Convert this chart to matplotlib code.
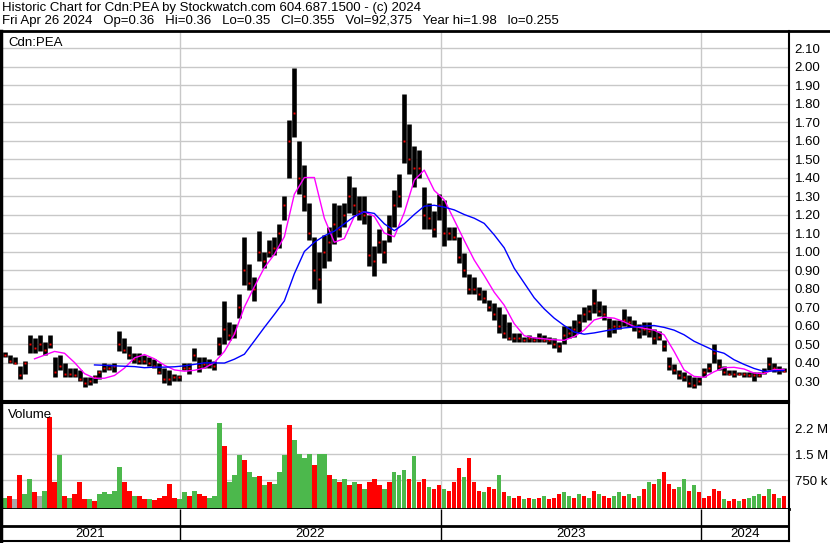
import numpy as np
import pandas as pd
import matplotlib
matplotlib.use("Agg")
from matplotlib import pyplot as plt
from matplotlib.lines import Line2D

plt.rcParams["font.family"] = ["Liberation Sans", "DejaVu Sans"]

# weekly bars (week ending Friday)
start_week = "2021-04-30"
hi = [0.455, 0.44, 0.43, 0.38, 0.41, 0.55, 0.53, 0.55, 0.51, 0.55,
      0.43, 0.44, 0.40, 0.37, 0.37, 0.36, 0.32, 0.32, 0.33, 0.36,
      0.40, 0.39, 0.40, 0.57, 0.53, 0.49, 0.45, 0.45, 0.44, 0.43,
      0.42, 0.40, 0.37, 0.36, 0.34, 0.33, 0.40, 0.40, 0.48, 0.43,
      0.43, 0.42, 0.41, 0.54, 0.73, 0.62, 0.61, 0.77, 1.08, 0.93,
      0.86, 1.11, 1.00, 1.06, 1.08, 1.15, 1.30, 1.71, 1.99, 1.60,
      1.47, 1.26, 1.08, 1.00, 1.09, 1.13, 1.26, 1.25, 1.26, 1.41,
      1.35, 1.30, 1.30, 1.20, 1.03, 1.12, 1.06, 1.20, 1.33, 1.42,
      1.85, 1.69, 1.57, 1.55, 1.35, 1.26, 1.22, 1.31, 1.28, 1.13,
      1.13, 1.08, 0.99, 0.88, 0.86, 0.81, 0.79, 0.74, 0.72, 0.70,
      0.66, 0.62, 0.56, 0.56, 0.54, 0.55, 0.54, 0.56, 0.55, 0.54,
      0.53, 0.51, 0.60, 0.60, 0.63, 0.66, 0.70, 0.71, 0.795, 0.73,
      0.71, 0.64, 0.63, 0.63, 0.69, 0.65, 0.63, 0.61, 0.62, 0.62,
      0.58, 0.57, 0.52, 0.43, 0.39, 0.36, 0.35, 0.33, 0.32, 0.32,
      0.37, 0.40, 0.50, 0.42, 0.38, 0.36, 0.36, 0.35, 0.35, 0.35,
      0.35, 0.35, 0.37, 0.43, 0.40, 0.38, 0.37]
lo = [0.43, 0.40, 0.39, 0.31, 0.34, 0.45, 0.45, 0.46, 0.44, 0.48,
      0.32, 0.36, 0.32, 0.32, 0.32, 0.30, 0.27, 0.28, 0.29, 0.31,
      0.35, 0.36, 0.35, 0.46, 0.45, 0.42, 0.40, 0.39, 0.39, 0.38,
      0.37, 0.34, 0.29, 0.28, 0.30, 0.30, 0.36, 0.34, 0.41, 0.35,
      0.37, 0.37, 0.36, 0.44, 0.50, 0.52, 0.53, 0.64, 0.82, 0.79,
      0.73, 0.95, 0.91, 0.97, 0.98, 1.02, 1.17, 1.40, 1.62, 1.31,
      1.22, 1.06, 0.80, 0.72, 0.91, 0.95, 1.04, 1.08, 1.13, 1.21,
      1.20, 1.17, 1.15, 0.92, 0.87, 0.99, 0.94, 1.05, 1.13, 1.24,
      1.48, 1.42, 1.35, 1.40, 1.12, 1.12, 1.08, 1.17, 1.03, 1.06,
      1.06, 0.94, 0.86, 0.77, 0.77, 0.74, 0.72, 0.68, 0.63, 0.56,
      0.53, 0.52, 0.51, 0.51, 0.51, 0.51, 0.51, 0.51, 0.51, 0.50,
      0.48, 0.455, 0.50, 0.53, 0.54, 0.56, 0.62, 0.63, 0.67, 0.65,
      0.63, 0.54, 0.56, 0.58, 0.60, 0.59, 0.57, 0.53, 0.55, 0.54,
      0.50, 0.52, 0.46, 0.36, 0.34, 0.31, 0.30, 0.27, 0.26, 0.28,
      0.32, 0.35, 0.40, 0.36, 0.33, 0.33, 0.32, 0.33, 0.32, 0.32,
      0.30, 0.32, 0.34, 0.36, 0.35, 0.34, 0.35]
cl = [0.44, 0.41, 0.40, 0.33, 0.40, 0.50, 0.48, 0.50, 0.47, 0.50,
      0.35, 0.38, 0.34, 0.34, 0.33, 0.31, 0.29, 0.30, 0.32, 0.35,
      0.37, 0.37, 0.38, 0.50, 0.47, 0.44, 0.42, 0.41, 0.41, 0.40,
      0.38, 0.35, 0.31, 0.31, 0.32, 0.32, 0.37, 0.37, 0.44, 0.38,
      0.39, 0.39, 0.38, 0.50, 0.58, 0.55, 0.56, 0.70, 0.90, 0.83,
      0.80, 1.00, 0.95, 1.00, 1.02, 1.10, 1.25, 1.60, 1.75, 1.40,
      1.30, 1.10, 0.90, 0.85, 1.00, 1.05, 1.15, 1.12, 1.20, 1.30,
      1.25, 1.22, 1.20, 0.98, 0.95, 1.05, 1.00, 1.12, 1.25, 1.30,
      1.60, 1.50, 1.45, 1.45, 1.20, 1.18, 1.12, 1.25, 1.10, 1.10,
      1.08, 0.97, 0.90, 0.80, 0.80, 0.77, 0.75, 0.70, 0.66, 0.60,
      0.56, 0.53, 0.53, 0.53, 0.52, 0.53, 0.52, 0.53, 0.52, 0.52,
      0.50, 0.49, 0.55, 0.56, 0.58, 0.62, 0.66, 0.68, 0.72, 0.68,
      0.66, 0.58, 0.60, 0.60, 0.63, 0.62, 0.60, 0.57, 0.58, 0.57,
      0.53, 0.54, 0.49, 0.38, 0.36, 0.33, 0.32, 0.29, 0.28, 0.30,
      0.35, 0.37, 0.45, 0.38, 0.35, 0.34, 0.34, 0.34, 0.34, 0.33,
      0.33, 0.33, 0.35, 0.39, 0.37, 0.36, 0.355]
# weekly peak volume, thousands of shares; r = down, g = up, n = unchanged
vol_k = [250, 300, 200, 900, 350, 800, 400, 300, 450, 2580,
         700, 1480, 300, 250, 350, 710, 200, 200, 150, 350,
         400, 350, 450, 1140, 700, 450, 300, 300, 200, 200,
         180, 250, 300, 640, 250, 200, 400, 300, 450, 350,
         300, 250, 300, 2390, 1740, 700, 900, 1480, 1330, 1000,
         850, 860, 600, 700, 650, 1000, 1480, 2350, 1900, 1500,
         1400, 1500, 1200, 1500, 1500, 900, 800, 700, 800, 600,
         700, 650, 500, 700, 800, 600, 500, 700, 1000, 900,
         1050, 800, 1450, 700, 800, 550, 500, 600, 500, 450,
         700, 1100, 850, 1380, 700, 450, 400, 550, 500, 900,
         400, 300, 250, 300, 200, 250, 200, 250, 300, 200,
         250, 350, 400, 300, 250, 350, 300, 250, 450, 350,
         300, 250, 300, 400, 300, 350, 250, 300, 500, 700,
         650, 800, 1000, 650, 500, 550, 800, 450, 600, 400,
         250, 300, 500, 450, 200, 150, 200, 150, 200, 250,
         300, 350, 300, 500, 350, 250, 300]
vol_dir = ("grnrggrngr" "rgrgrrrgrg" "ggggrrgrrg" "rrrrrggrgr" "rgggrgggrg"
           "grgrgggrgg" "ggrggrgrgr" "grgrrrgrgg" "grgrrgrrgr" "rrgrrrgrrg"
           "rgrrgrgrgr" "rrggrgrgrg" "rrggrgrgrg" "rgrrrggrgr" "rrrrgrrgrg"
           "ggrgrgr")

# moving averages, every second week (nan = not yet defined)
nan = np.nan
ma_short = [nan, nan, nan, 0.42, 0.44, 0.46, 0.45, 0.40, 0.34, 0.315,
            0.315, 0.33, 0.37, 0.425, 0.443, 0.42, 0.385, 0.36, 0.353, 0.358,
            0.37, 0.40, 0.46, 0.553, 0.70, 0.81, 0.913, 0.985, 1.08, 1.31,
            1.40, 1.40, 1.18, 1.05, 1.07, 1.19, 1.215, 1.19, 1.10, 1.08,
            1.21, 1.386, 1.44, 1.33, 1.28, 1.17, 1.06, 0.954, 0.87, 0.78,
            0.71, 0.61, 0.545, 0.533, 0.528, 0.523, 0.52, 0.54, 0.575, 0.63,
            0.645, 0.64, 0.62, 0.594, 0.585, 0.575, 0.55, 0.46, 0.36, 0.325,
            0.32, 0.35, 0.372, 0.374, 0.365, 0.343, 0.34, 0.362, 0.362]
ma_long = [nan, nan, nan, nan, nan, nan, nan, nan, nan, 0.387,
           0.385, 0.382, 0.38, 0.378, 0.372, 0.375, 0.375, 0.377, 0.382, 0.39,
           0.398, 0.398, 0.397, 0.418, 0.445, 0.517, 0.59, 0.66, 0.733, 0.88,
           1.00, 1.05, 1.085, 1.11, 1.15, 1.19, 1.215, 1.206, 1.15, 1.113,
           1.15, 1.20, 1.245, 1.25, 1.24, 1.225, 1.20, 1.18, 1.152, 1.09,
           1.02, 0.91, 0.83, 0.75, 0.69, 0.64, 0.60, 0.565, 0.553, 0.56,
           0.57, 0.58, 0.587, 0.592, 0.597, 0.60, 0.59, 0.575, 0.55, 0.515,
           0.49, 0.465, 0.45, 0.415, 0.39, 0.368, 0.352, 0.355, 0.357]

years = ["2021", "2022", "2023", "2024"]
price_ticks = [0.30, 0.40, 0.50, 0.60, 0.70, 0.80, 0.90, 1.00, 1.10, 1.20,
               1.30, 1.40, 1.50, 1.60, 1.70, 1.80, 1.90, 2.00, 2.10]
vol_ticks = [750000, 1500000, 2250000]
vol_labels = ["750 k", "1.5 M", "2.2 M"]

header1 = "Historic Chart for Cdn:PEA by Stockwatch.com 604.687.1500 - (c) 2024"
header2 = ("Fri Apr 26 2024   Op=0.36   Hi=0.36   Lo=0.35   Cl=0.355   "
           "Vol=92,375   Year hi=1.98   lo=0.255")

weeks = pd.date_range(start_week, periods=len(hi), freq="7D")
ma_dates = weeks[::2]
xmin, xmax = pd.Timestamp("2021-04-25"), pd.Timestamp("2024-05-03")
year_starts = pd.to_datetime(["2022-01-01", "2023-01-01", "2024-01-01"])
grid_c = "#c8c8c8"
W, H = 830, 543


def box(x0, y0, x1, y1):
    return [x0 / W, 1 - y1 / H, (x1 - x0) / W, (y1 - y0) / H]


fig = plt.figure(figsize=(W / 100, H / 100), dpi=100)
ax = fig.add_axes(box(1, 31, 789, 401))
axv = fig.add_axes(box(1, 403, 789, 509))
axd = fig.add_axes(box(1, 509, 789, 541))

# price panel
for y in price_ticks:
    ax.axhline(y, color=grid_c, lw=1, zorder=0)
for d in year_starts:
    ax.axvline(d, color=grid_c, lw=1, zorder=0)
ax.vlines(weeks, lo, hi, color="black", lw=3.3, zorder=2)
ax.plot(weeks, cl, "s", color="red", ms=1.4, mew=0, zorder=3)
ax.plot(ma_dates, ma_short, color="#ff00ff", lw=1, zorder=4)
ax.plot(ma_dates, ma_long, color="#0000ff", lw=1, zorder=4)
ax.set_xlim(xmin, xmax)
ax.set_ylim(0.192, 2.192)
ax.set_xticks([])
ax.yaxis.tick_right()
ax.set_yticks(price_ticks)
ax.set_yticklabels(["%.2f" % t for t in price_ticks])
ax.tick_params(axis="y", length=0, pad=4, labelsize=9.5)
ax.text(0.009, 0.985, "Cdn:PEA", transform=ax.transAxes, fontsize=9.5, va="top")

# volume panel
vcol = {"r": "#ff0000", "g": "#4cb84c", "n": "#a8a8a8"}
vbase = -78000
for y in vol_ticks:
    axv.axhline(y, color=grid_c, lw=1, zorder=0)
for d in year_starts:
    axv.axvline(d, color=grid_c, lw=1, zorder=0)
axv.bar(weeks, [v * 1000 - vbase for v in vol_k], bottom=vbase, width=6.2,
        color=[vcol[c] for c in vol_dir], lw=0, zorder=2)
axv.set_xlim(xmin, xmax)
axv.set_ylim(vbase, 2.98e6)
axv.set_xticks([])
axv.yaxis.tick_right()
axv.set_yticks(vol_ticks)
axv.set_yticklabels(vol_labels)
axv.tick_params(axis="y", length=0, pad=4, labelsize=9.5)
axv.text(0.009, 0.94, "Volume", transform=axv.transAxes, fontsize=9.5, va="top")

# date band
axd.set_xlim(xmin, xmax)
axd.set_ylim(0, 1)
axd.axhline(0.47, color="black", lw=2)
axd.vlines(year_starts, 0, 1, color="black", lw=1)
bounds = [xmin] + list(year_starts) + [xmax]
for i, yr in enumerate(years):
    mid = bounds[i] + (bounds[i + 1] - bounds[i]) / 2
    axd.text(mid, 0.22, yr, ha="center", va="center", fontsize=9.5)
axd.set_xticks([])
axd.set_yticks([])

for a in (ax, axv, axd):
    for s in a.spines.values():
        s.set_color("black")
        s.set_linewidth(1.5)
ax.spines["top"].set_visible(False)
ax.spines["left"].set_linewidth(2.5)
axv.spines["left"].set_linewidth(2.5)
axd.spines["left"].set_linewidth(2.5)
axv.spines["bottom"].set_linewidth(2)
axd.spines["top"].set_visible(False)

fig.add_artist(Line2D([0, 1], [1 - 31 / H, 1 - 31 / H], color="black", lw=2,
                      transform=fig.transFigure))
fig.text(2 / W, 1 - 8 / H, header1, fontsize=9.5, va="center")
fig.text(2 / W, 1 - 21 / H, header2, fontsize=9.5, va="center")

fig.savefig("out.png", dpi=100, facecolor="white")
